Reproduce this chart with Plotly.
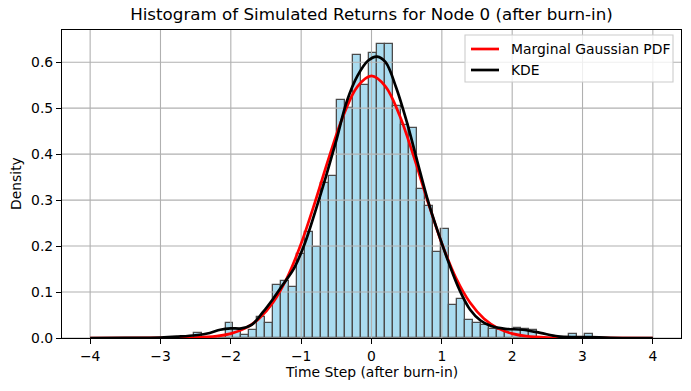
import numpy as np
import plotly.graph_objects as go

# histogram (density) of returns after burn-in, 50 bins
bin_min = -2.53
bin_max = 3.15
density = [
    0.0098, 0.0, 0.0, 0.0, 0.0326, 0.0196, 0.0075, 0.018, 0.046, 0.033,
    0.116, 0.125, 0.112, 0.182, 0.231, 0.198, 0.337, 0.352, 0.517, 0.500,
    0.616, 0.550, 0.621, 0.639, 0.639, 0.505, 0.463, 0.457, 0.324, 0.288,
    0.187, 0.237, 0.071, 0.085, 0.040, 0.033, 0.029, 0.020, 0.018, 0.017,
    0.022, 0.020, 0.017, 0.0, 0.0, 0.0, 0.0, 0.0087, 0.0, 0.0087,
]

# marginal gaussian pdf
pdf_x = [-4.0, -3.0, -2.5, -2.2, -2.0, -1.8, -1.6, -1.4, -1.2, -1.0, -0.8, -0.6, -0.4, -0.2,
         0.0, 0.2, 0.4, 0.6, 0.8, 1.0, 1.2, 1.4, 1.6, 1.8, 2.0, 2.2, 2.5, 3.0, 4.0]
pdf_y = [0.0, 0.0001, 0.001, 0.0041, 0.0096, 0.0209, 0.0418, 0.0771, 0.131, 0.2055, 0.297, 0.395, 0.484, 0.547,
         0.570, 0.547, 0.484, 0.395, 0.297, 0.2055, 0.131, 0.0771, 0.0418, 0.0209, 0.0096, 0.0041, 0.001, 0.0001, 0.0]

# KDE curve
kde_x = [-4.0, -3.5, -3.0, -2.75, -2.5, -2.3, -2.15, -2.0, -1.85, -1.7, -1.55, -1.4, -1.25, -1.1,
         -0.95, -0.8, -0.65, -0.5, -0.35, -0.2, -0.05, 0.08, 0.2, 0.35, 0.5, 0.65, 0.8, 0.95,
         1.1, 1.25, 1.4, 1.55, 1.7, 1.9, 2.15, 2.4, 2.65, 2.9, 3.1, 3.4, 4.0]
kde_y = [0.0, 0.0003, 0.001, 0.003, 0.006, 0.011, 0.018, 0.021, 0.021, 0.029, 0.055, 0.085, 0.118, 0.152,
         0.205, 0.275, 0.35, 0.43, 0.515, 0.57, 0.603, 0.612, 0.60, 0.545, 0.471, 0.385, 0.30, 0.228,
         0.163, 0.105, 0.062, 0.038, 0.026, 0.020, 0.018, 0.011, 0.0035, 0.002, 0.002, 0.0005, 0.0]

x_ticks = [-4, -3, -2, -1, 0, 1, 2, 3, 4]
y_ticks = [0.0, 0.1, 0.2, 0.3, 0.4, 0.5, 0.6]
x_range = [-4.4, 4.4]
y_range = [0, 0.67]

W, H = 691, 391
ML, MR, MT, MB = 62, 10, 30, 53

edges = np.linspace(bin_min, bin_max, len(density) + 1)
centers = (edges[:-1] + edges[1:]) / 2
width = edges[1] - edges[0]

fig = go.Figure()

fig.add_trace(go.Bar(
    x=centers, y=density, width=width,
    marker=dict(color="skyblue", line=dict(color="black", width=1.3)),
    opacity=0.7, showlegend=False, hoverinfo="skip",
))

# matplotlib draws the grid above the bars but below the lines
gx, gy = [], []
for t in x_ticks:
    gx += [t, t, None]
    gy += [y_range[0], y_range[1], None]
for t in y_ticks:
    gx += [x_range[0], x_range[1], None]
    gy += [t, t, None]
fig.add_trace(go.Scatter(
    x=gx, y=gy, mode="lines", line=dict(color="#b0b0b0", width=1.1),
    showlegend=False, hoverinfo="skip",
))

fig.add_trace(go.Scatter(
    x=pdf_x, y=pdf_y, mode="lines", name="Marginal Gaussian PDF",
    line=dict(color="red", width=2.7, shape="spline"), showlegend=False,
))
fig.add_trace(go.Scatter(
    x=kde_x, y=kde_y, mode="lines", name="KDE",
    line=dict(color="black", width=2.7, shape="spline"), showlegend=False,
))

# legend drawn by hand, matplotlib style (pixel positions -> paper coords)
pw, ph = W - ML - MR, H - MT - MB
px = lambda v: (v - ML) / pw
py = lambda v: (H - MB - v) / ph

fig.add_shape(type="rect", xref="paper", yref="paper",
              x0=px(465), x1=px(673), y0=py(82), y1=py(35),
              fillcolor="rgba(255,255,255,0.8)", line=dict(color="#cccccc", width=1.1))
for i, tr in enumerate(fig.data[2:]):
    yy = 49 + i * 21
    fig.add_shape(type="line", xref="paper", yref="paper",
                  x0=px(471), x1=px(499), y0=py(yy), y1=py(yy),
                  line=dict(color=tr.line.color, width=2.7))
    fig.add_annotation(text=tr.name, xref="paper", yref="paper", x=px(509), y=py(yy),
                       xanchor="left", yanchor="middle", showarrow=False,
                       font=dict(size=13.9, color="black"))

# axis titles
fig.add_annotation(text="Time Step (after burn-in)", xref="paper", yref="paper",
                   x=0.5, y=0, yshift=-34, xanchor="center", yanchor="middle",
                   showarrow=False, font=dict(size=13.9))
fig.add_annotation(text="Density", xref="paper", yref="paper", textangle=-90,
                   x=0, y=0.5, xshift=-46, xanchor="center", yanchor="middle",
                   showarrow=False, font=dict(size=13.9))

axis_style = dict(
    showgrid=False, zeroline=False, showline=True, mirror=True, automargin=False,
    linecolor="black", linewidth=1.1, ticks="outside", ticklen=5,
    tickcolor="black", tickwidth=1.1, tickfont=dict(size=13.9, color="black"),
)

fig.update_layout(
    width=W, height=H, autosize=False,
    margin=dict(l=ML, r=MR, t=MT, b=MB),
    plot_bgcolor="white", paper_bgcolor="white",
    font=dict(family="DejaVu Sans", color="black", size=13.9),
    bargap=0, showlegend=False,
    title=dict(text="Histogram of Simulated Returns for Node 0 (after burn-in)",
               x=0.5, xref="paper", xanchor="center", y=1 - 14 / H, yanchor="middle",
               font=dict(size=16.7)),
    xaxis=dict(range=x_range, tickvals=x_ticks, **axis_style),
    yaxis=dict(range=y_range, tickvals=y_ticks, tickformat=".1f", **axis_style),
)

# page body has an 8px margin by default, drop it so the figure sits at 0,0
fig.write_html("out.html", config={"displayModeBar": False},
               post_script="document.body.style.margin='0';")
